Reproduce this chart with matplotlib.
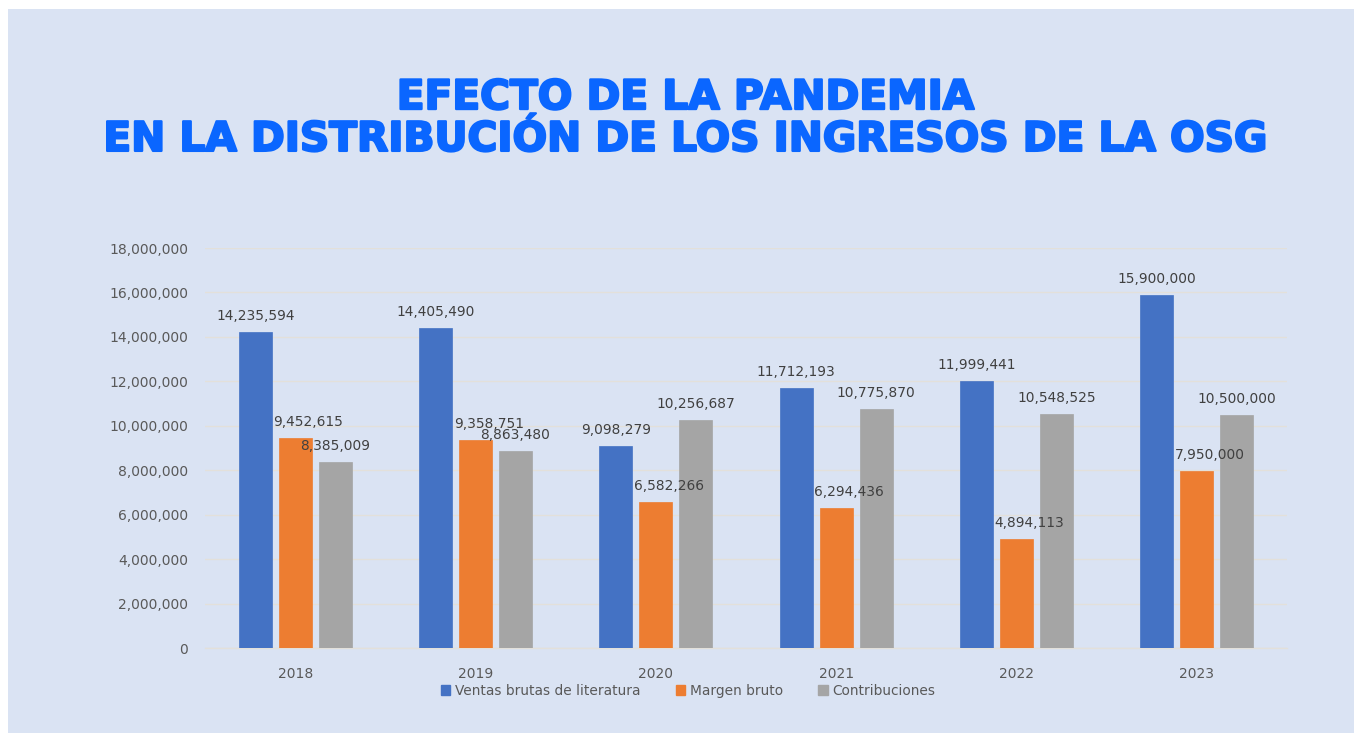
import matplotlib
matplotlib.use("Agg")
import matplotlib.pyplot as plt
import matplotlib.patheffects as pe
import numpy as np
from matplotlib.patches import Rectangle, Patch
from matplotlib.ticker import FuncFormatter

years = ["2018", "2019", "2020", "2021", "2022", "2023"]
ventas = [14235594, 14405490, 9098279, 11712193, 11999441, 15900000]
margen = [9452615, 9358751, 6582266, 6294436, 4894113, 7950000]
contrib = [8385009, 8863480, 10256687, 10775870, 10548525, 10500000]
series_names = ["Ventas brutas de literatura", "Margen bruto", "Contribuciones"]
colors = ["#4472C4", "#ED7D31", "#A5A5A5"]
title = "EFECTO DE LA PANDEMIA\nEN LA DISTRIBUCIÓN DE LOS INGRESOS DE LA OSG"

W, H = 1354, 733
fig = plt.figure(figsize=(W / 100, H / 100), dpi=100, facecolor="white")
bg = "#DAE3F3"
fig.patches.append(Rectangle((8 / W, 0), 1 - 8 / W, 1 - 9 / H, transform=fig.transFigure,
                             facecolor=bg, edgecolor="none", zorder=-10))

ax = fig.add_axes([205 / W, 85 / H, 1082 / W, 400 / H])
ax.set_facecolor(bg)
ax.patch.set_alpha(0)

x = np.arange(len(years))
step = 0.2216
bw = 0.183
label_dx = [0, 9.5, 0]  # points
for i, (vals, c) in enumerate(zip([ventas, margen, contrib], colors)):
    xs = x + (i - 1) * step
    ax.bar(xs, vals, width=bw, color=c, edgecolor=c, linewidth=0.5, zorder=3, label=series_names[i])
    for xi, v in zip(xs, vals):
        ax.annotate(f"{v:,}", (xi, v), xytext=(label_dx[i], 11.5), textcoords="offset points",
                    ha="center", va="center", fontsize=9.9, color="#404040", zorder=5)

ax.set_xlim(-0.5, len(years) - 0.5)
ax.set_ylim(0, 18000000)
ax.set_yticks(np.arange(0, 18000001, 2000000))
ax.yaxis.set_major_formatter(FuncFormatter(lambda v, p: f"{int(v):,}"))
ax.set_xticks(x)
ax.set_xticklabels(years)
ax.tick_params(axis="y", length=0, pad=12, labelsize=10, labelcolor="#595959")
ax.tick_params(axis="x", length=0, pad=14, labelsize=10, labelcolor="#595959")
ax.grid(axis="y", color="#E3E0DA", linewidth=1, zorder=0)
for s in ["top", "right", "left"]:
    ax.spines[s].set_visible(False)
ax.spines["bottom"].set_color("#E3E0DA")
ax.spines["bottom"].set_linewidth(1)

tcol = "#0A66FF"
fig.text(686 / W, 1 - 119 / H, title, ha="center", va="center", fontsize=29.3,
         fontweight="bold", family="DejaVu Sans", color=tcol, linespacing=1.06,
         path_effects=[pe.withStroke(linewidth=1.6, foreground=tcol)])

handles = [Patch(facecolor=c, edgecolor=c) for c in colors]
fig.legend(handles, series_names, loc="center", bbox_to_anchor=(688 / W, 1 - 691 / H), ncol=3,
           frameon=False, fontsize=9.9, labelcolor="#595959", handlelength=0.7, handleheight=0.7,
           handletextpad=0.3, columnspacing=2.6)

fig.savefig("out.png", dpi=100, facecolor="white")
